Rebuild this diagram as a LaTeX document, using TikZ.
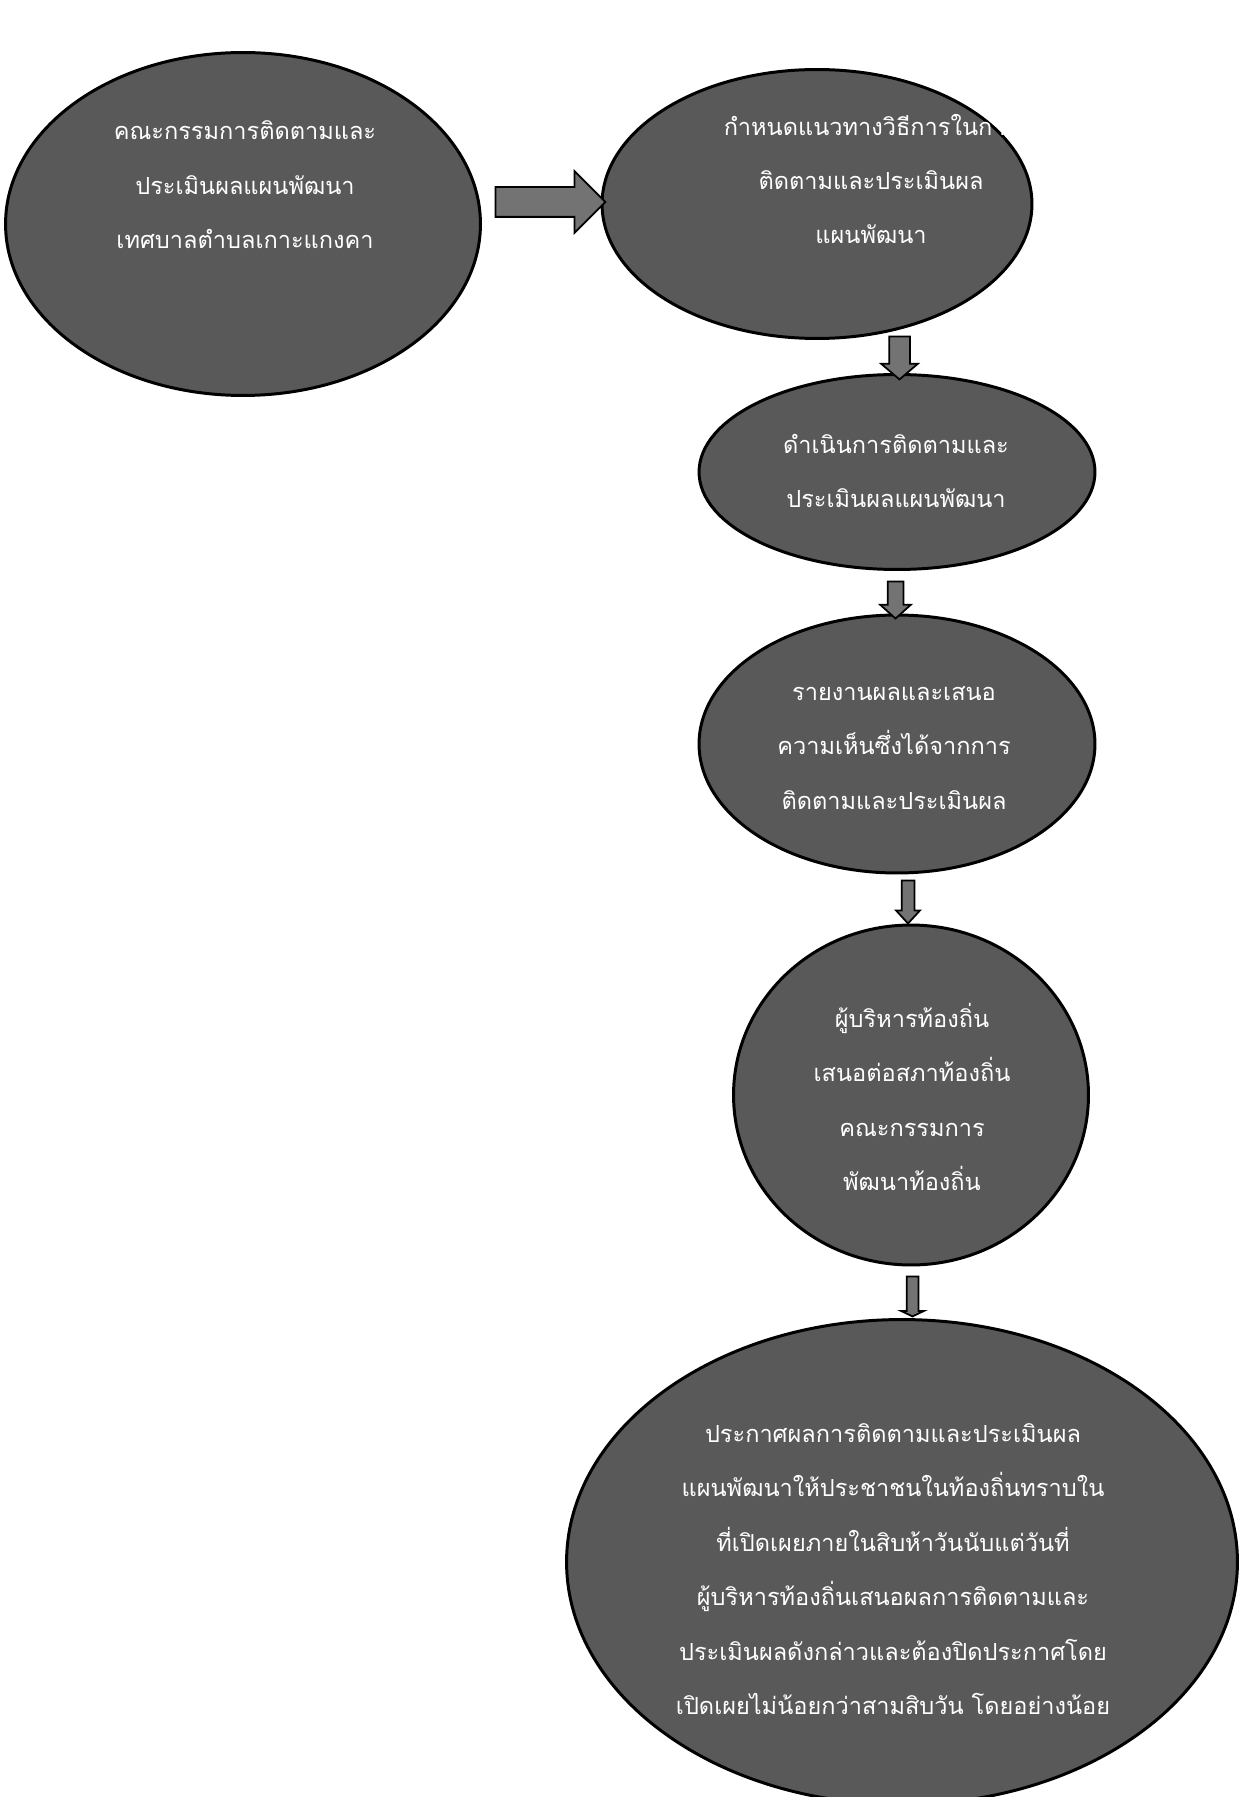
\documentclass[tikz,border=0pt]{standalone}
\usepackage{fontspec}
\newfontfamily\thaifont[Script=Thai]{Loma}
\usetikzlibrary{shapes.geometric, shapes.arrows}
\tikzstyle{oval} = [ellipse, draw=black, line width=1.7pt, fill=black!65, inner sep=0pt]
\tikzstyle{ovaltext} = [text=white, align=center, font=\thaifont\fontsize{13.4}{31}\selectfont]
\tikzstyle{blockarrow} = [single arrow, draw=black, line width=1pt, fill=black!55, text width=0pt, text height=0pt, text depth=0pt]

\begin{document}
\begin{tikzpicture}[x=0.02cm, y=-0.02cm]

    \useasboundingbox (0,0) rectangle (1238,1797);

    \node (board) [oval, minimum width=9.5cm, minimum height=6.86cm] at (243,224) {};
    \node (plan) [oval, minimum width=8.6cm, minimum height=5.38cm] at (817,204) {};
    \node (track) [oval, minimum width=7.92cm, minimum height=3.9cm] at (897,472) {};
    \node (report) [oval, minimum width=7.92cm, minimum height=5.16cm] at (897,744) {};
    \node (council) [oval, minimum width=7.1cm, minimum height=6.8cm] at (911,1095) {};
    \node (announce) [oval, minimum width=13.42cm, minimum height=9.7cm] at (902,1562) {};

    \node (board-t) [ovaltext] at (245,185) {คณะกรรมการติดตามและ\\ประเมินผลแผนพัฒนา\\เทศบาลตำบลเกาะแกงคา};
    \node (plan-t) [ovaltext] at (871,179) {กำหนดแนวทางวิธีการในการ\\ติดตามและประเมินผล\\แผนพัฒนา};
    \node (track-t) [ovaltext] at (896,471) {ดำเนินการติดตามและ\\ประเมินผลแผนพัฒนา};
    \node (report-t) [ovaltext] at (894,748) {รายงานผลและเสนอ\\ความเห็นซึ่งได้จากการ\\ติดตามและประเมินผล};
    \node (council-t) [ovaltext] at (912,1097) {ผู้บริหารท้องถิ่น\\เสนอต่อสภาท้องถิ่น\\คณะกรรมการ\\พัฒนาท้องถิ่น};
    \node (announce-t) [ovaltext] at (893,1569) {ประกาศผลการติดตามและประเมินผล\\แผนพัฒนาให้ประชาชนในท้องถิ่นทราบใน\\ที่เปิดเผยภายในสิบห้าวันนับแต่วันที่\\ผู้บริหารท้องถิ่นเสนอผลการติดตามและ\\ประเมินผลดังกล่าวและต้องปิดประกาศโดย\\เปิดเผยไม่น้อยกว่าสามสิบวัน โดยอย่างน้อย};

    % block arrows between the ovals
    \node (arr1) [blockarrow, minimum height=2.2cm, inner sep=0.28cm, single arrow head extend=0.32cm, single arrow tip angle=90] at (543,202) {};
    \node (arr2) [blockarrow, shape border rotate=270, minimum height=0.86cm, inner sep=0.19cm, single arrow head extend=0.16cm, single arrow tip angle=99] at (899.5,353.5) {};
    \node (arr3) [blockarrow, shape border rotate=270, minimum height=0.74cm, inner sep=0.14cm, single arrow head extend=0.15cm, single arrow tip angle=96] at (895.5,596.5) {};
    \node (arr4) [blockarrow, shape border rotate=270, minimum height=0.86cm, inner sep=0.11cm, single arrow head extend=0.11cm, single arrow tip angle=85] at (908,898.5) {};
    \node (arr5) [blockarrow, shape border rotate=270, minimum height=0.8cm, inner sep=0.1cm, single arrow head extend=0.11cm, single arrow tip angle=129] at (912.5,1295) {};

\end{tikzpicture}
\end{document}
